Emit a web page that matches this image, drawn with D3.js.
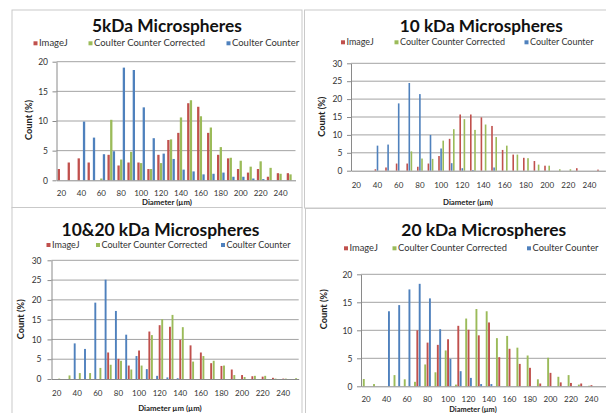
<!DOCTYPE html>
<html><head><meta charset="utf-8">
<script src="https://cdn.jsdelivr.net/npm/d3@7/dist/d3.min.js"></script>
<style>html,body{margin:0;padding:0;background:#fff;overflow:hidden}svg{display:block}</style>
</head><body>
<svg id="c" width="606" height="413"></svg>
<script>
// ---------- data ----------
const diameters = [20,30,40,50,60,70,80,90,100,110,120,130,140,150,160,170,180,190,200,210,220,230,240,250];
const xTickLabels = [20,40,60,80,100,120,140,160,180,200,220,240];
const yTicks20 = [0,5,10,15,20];
const yTicks30 = [0,5,10,15,20,25,30];
const seriesNames = ["ImageJ","Coulter Counter Corrected","Coulter Counter"];
const panelTitles = ["5kDa Microspheres","10 kDa Microspheres","10&20 kDa Microspheres","20 kDa Microspheres"];
const xTitles = ["Diameter (\u00b5m)","Diameter (\u00b5m)","Diameter \u00b5m (\u00b5m)","Diameter (\u00b5m)"];
const yTitle = "Count (%)";

const imageJ5    = [1.9,3.0,3.7,3.0,0,4.3,2.5,3.0,3.0,1.9,4.3,6.8,8.0,13.0,12.4,8.0,4.3,3.7,1.9,1.3,1.9,0.6,1.2,1.2];
const corrected5 = [0,0,0,0,0.3,10.2,3.5,4.8,2.9,1.9,2.9,6.9,10.6,13.5,10.8,8.9,5.6,3.8,3.3,2.3,3.2,2.1,1.1,1.0];
const coulter5   = [0,0,9.9,7.2,4.4,4.9,19.0,18.6,12.3,7.1,4.5,3.6,1.8,1.5,1.0,1.1,1.3,0.6,0.6,0.3,0.2,0,0,0];

const imageJ10    = [0,0,0.4,0.9,2.0,2.0,1.1,2.0,4.1,8.9,15.7,15.7,14.9,12.5,5.8,4.5,3.6,2.7,1.4,0,0,0.7,0,0.3];
const corrected10 = [0,0,0,0,0,5.4,3.4,3.3,8.4,11.6,14.4,11.4,12.9,9.4,7.0,4.5,3.5,1.7,1.4,0.4,0.4,0,0,0];
const coulter10   = [0,0,7.0,7.3,18.8,24.5,21.4,10.0,6.2,2.1,0.7,0.2,0,0.9,0,0,0,0,0,0,0,0,0,0];

const imageJ1020    = [0,0,0,0,0,6.7,5.1,3.4,7.2,12.0,13.6,13.2,9.9,8.5,6.7,4.0,3.3,2.4,1.0,0.7,0.6,0.3,0.1,0];
const corrected1020 = [0.1,0.9,1.5,1.5,2.8,3.6,4.6,2.4,3.4,11.1,15.1,16.2,13.1,4.4,5.8,4.6,3.4,1.0,0.5,0.8,0.8,0.1,0.1,0.2];
const coulter1020   = [0,0,9.0,7.6,19.3,25.1,17.2,11.2,5.8,2.5,0.8,0.4,0.2,0,0,0,0,0,0,0,0,0,0,0];

const imageJ20    = [0,0,0,0,0,10.0,7.8,7.4,8.4,10.8,10.1,9.1,11.4,5.2,6.7,4.0,3.3,0.5,2.4,0.7,0.6,0.5,0.2,0];
const corrected20 = [1.3,0.4,0,2.0,1.25,0.8,3.9,2.5,6.4,0.3,12.1,13.8,13.4,8.6,9.0,6.9,5.5,1.25,5.1,1.7,2.0,0.3,0.1,0];
const coulter20   = [0,0,13.4,14.5,17.3,18.3,15.7,10.2,4.9,2.7,1.5,0.4,0.4,0,0,0,0,0,0,0,0,0,0,0];

// ---------- styles / layout ----------
const colors = {"ImageJ":"#c0504d","Coulter Counter Corrected":"#9bbb59","Coulter Counter":"#4f81bd"};
const FONT = "Lato, 'Open Sans', sans-serif";

const panels = [
  {title:panelTitles[0], xTitle:xTitles[0], values:[imageJ5,corrected5,coulter5], max:20, yTicks:yTicks20,
   order:["ImageJ","Coulter Counter Corrected","Coulter Counter"],
   fx:12, fy:10, fw:290, fh:198, titleX:167, titleY:32, titleW:150,
   legY:43.3, legX:[33.5,88.5,226.5], legW:111,
   x0:56.5, x1:295.5, y0:180.3, yT:61.7, step:2.65, barW:2.3,
   yLabR:48, yTitleX:29, yTitleY:120, xLabBase:196.5, xTitleX:167, xTitleBase:205, xTitleFs:7.8},
  {title:panelTitles[1], xTitle:xTitles[1], values:[imageJ10,corrected10,coulter10], max:30, yTicks:yTicks30,
   order:["ImageJ","Coulter Counter","Coulter Counter Corrected"],
   fx:304.5, fy:10, fw:400, fh:198, titleX:481.3, titleY:32, titleW:163,
   legY:42.3, legX:[341,394.5,524.5], legW:105,
   x0:351, x1:605.4, y0:170.7, yT:63.3, step:2.1, barW:1.6,
   yLabR:342.3, yTitleX:322, yTitleY:116.7, xLabBase:188, xTitleX:468, xTitleBase:204.5, xTitleFs:7.8},
  {title:panelTitles[2], xTitle:xTitles[2], values:[imageJ1020,corrected1020,coulter1020], max:30, yTicks:yTicks30,
   order:["Coulter Counter","ImageJ","Coulter Counter Corrected"],
   fx:12, fy:207.5, fw:290, fh:220, titleX:160.5, titleY:236, titleW:198,
   legY:245, legX:[46.5,96,221], legW:106,
   x0:51.5, x1:298.7, y0:379, yT:260.3, step:2.55, barW:1.9,
   yLabR:41.5, yTitleX:20.7, yTitleY:319.3, xLabBase:395.5, xTitleX:170, xTitleBase:411, xTitleFs:7.8},
  {title:panelTitles[3], xTitle:xTitles[3], values:[imageJ20,corrected20,coulter20], max:20, yTicks:yTicks20,
   order:["Coulter Counter Corrected","ImageJ","Coulter Counter"],
   fx:305.5, fy:208.5, fw:400, fh:220, titleX:483.8, titleY:236, titleW:165,
   legY:248.3, legX:[344,392.5,527], legW:109,
   x0:361, x1:606.8, y0:386.3, yT:274.3, step:2.35, barW:1.9,
   yLabR:352.3, yTitleX:323.7, yTitleY:309.3, xLabBase:402.3, xTitleX:473, xTitleBase:411.8, xTitleFs:7.4}
];

const svg = d3.select("#c");
svg.append("rect").attr("width",606).attr("height",413).attr("fill","#fff");

function fit(sel, target){
  const w = sel.node().getComputedTextLength();
  const fs = parseFloat(sel.attr("font-size"));
  sel.attr("font-size", (fs*target/w).toFixed(2));
}

panels.forEach(p => {
  const g = svg.append("g");
  g.append("rect").attr("x",p.fx).attr("y",p.fy).attr("width",p.fw).attr("height",p.fh)
    .attr("fill","#fff").attr("stroke","#c9c9c9").attr("stroke-width",1);

  const x = d3.scaleBand().domain(diameters).range([p.x0,p.x1]).paddingInner(0).paddingOuter(0);
  const inner = d3.scalePoint().domain(p.order).range([-p.step,p.step]);
  const y = d3.scaleLinear().domain([0,p.max]).range([p.y0,p.yT]);

  // gridlines
  g.append("g").selectAll("line").data(p.yTicks.filter(t=>t>0)).join("line")
    .attr("x1",p.x0).attr("x2",p.x1).attr("y1",d=>y(d)).attr("y2",d=>y(d))
    .attr("stroke","#a3a3a3").attr("stroke-width",1);

  // bars
  const series = seriesNames.map((name,i)=>({name, vals:p.values[i]}));
  series.forEach(s => {
    g.append("g").selectAll("rect").data(diameters.map((d,i)=>({d,v:s.vals[i]})).filter(e=>e.v>0)).join("rect")
      .attr("x", e => x(e.d) + x.bandwidth()/2 + inner(s.name) - p.barW/2)
      .attr("width", p.barW)
      .attr("y", e => y(e.v))
      .attr("height", e => y(0)-y(e.v))
      .attr("fill", colors[s.name]);
  });

  // y axis
  const ya = g.append("g").attr("transform",`translate(${p.x0},0)`)
    .call(d3.axisLeft(y).tickValues(p.yTicks).tickSize(4).tickSizeOuter(0).tickPadding(p.x0-p.yLabR-4));
  ya.select(".domain").attr("stroke","#8a8a8a");
  ya.selectAll(".tick line").attr("stroke","#8a8a8a");
  ya.selectAll("text").attr("font-family",FONT).attr("font-size",8.5).attr("fill","#333");

  // x axis
  const xfs = 8;
  const xa = g.append("g").attr("transform",`translate(0,${p.y0})`)
    .call(d3.axisBottom(x).tickValues(xTickLabels).tickSize(0).tickSizeOuter(0).tickPadding(p.xLabBase-p.y0-0.71*xfs));
  xa.select(".domain").attr("stroke","#8a8a8a");
  xa.selectAll("text").attr("font-family",FONT).attr("font-size",xfs).attr("fill","#333");

  // title
  const t = g.append("text").attr("x",p.titleX).attr("y",p.titleY).attr("text-anchor","middle")
    .attr("font-family",FONT).attr("font-weight","bold").attr("font-size",16).attr("fill","#111").text(p.title);
  fit(t, p.titleW);

  // legend
  const leg = g.append("g");
  let legFs = 9;
  seriesNames.forEach((name,i)=>{
    leg.append("rect").attr("x",p.legX[i]).attr("y",p.legY-2).attr("width",4).attr("height",4).attr("fill",colors[name]);
    const lt = leg.append("text").attr("x",p.legX[i]+5.5).attr("y",p.legY+3)
      .attr("font-family",FONT).attr("font-size",legFs).attr("fill","#333").text(name);
    if(i===1){ fit(lt,p.legW); legFs = +lt.attr("font-size"); }
  });
  leg.selectAll("text").attr("font-size",legFs);

  // axis titles
  const yt = g.append("text").attr("transform",`translate(${p.yTitleX+3},${p.yTitleY}) rotate(-90)`)
    .attr("text-anchor","middle").attr("font-family",FONT).attr("font-weight","bold").attr("font-size",8.5)
    .attr("fill","#222").text(yTitle);
  fit(yt, 40);
  g.append("text").attr("x",p.xTitleX).attr("y",p.xTitleBase).attr("text-anchor","middle")
    .attr("font-family",FONT).attr("font-weight","bold").attr("font-size",p.xTitleFs).attr("fill","#222").text(p.xTitle);
});
</script>
</body></html>
